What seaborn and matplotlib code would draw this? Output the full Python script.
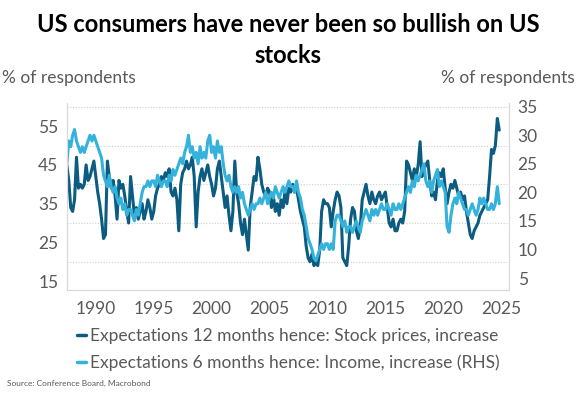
import pandas as pd
import matplotlib
matplotlib.use("Agg")
import matplotlib.pyplot as plt
import matplotlib.dates as mdates
from matplotlib.lines import Line2D
import seaborn as sns

# bi-monthly readings, Jul 1987 .. Nov 2024
stock_prices = [
    45, 41, 34,
    33, 36, 47, 39, 40, 39,
    40, 45, 41, 42, 44, 46,
    42, 38, 35, 31, 26, 27,
    46, 42, 39, 41, 37, 31,
    41, 39, 40, 37, 33, 30,
    42, 37, 32, 34, 31, 33,
    35, 31, 33, 36, 34, 31,
    33, 37, 39, 40, 42, 41,
    43, 42, 44, 38, 37, 39,
    36, 28, 40, 43, 44, 46,
    44, 45, 47, 42, 29, 38,
    42, 44, 41, 43, 45, 42,
    40, 37, 39, 44, 46, 42,
    38, 34, 37, 32, 28, 33,
    46, 38, 35, 30, 27, 31,
    27, 23, 34, 38, 42, 41,
    47, 44, 40, 38, 37, 39,
    38, 34, 37, 33, 35, 32,
    36, 34, 38, 35, 39, 38,
    40, 38, 39, 36, 33, 31,
    29, 24, 21, 20, 22, 19,
    20, 19, 23, 33, 36, 35,
    35, 34, 29, 33, 36, 38,
    37, 34, 21, 20, 19, 24,
    31, 34, 33, 28, 26, 29,
    36, 38, 40, 37, 35, 38,
    36, 35, 37, 38, 36, 37,
    38, 34, 30, 29, 31, 28,
    28, 30, 31, 30, 33, 46,
    45, 43, 41, 44, 42, 45,
    51, 42, 44, 45, 46, 41,
    37, 38, 36, 41, 43, 42,
    44, 39, 35, 38, 40, 39,
    41, 39, 37, 38, 36, 37,
    33, 30, 27, 26, 28, 29,
    30, 32, 33, 34, 35, 36,
    42, 49, 48, 50, 57, 54,
]
income = [
    25, 29, 28,
    30, 31, 29, 28, 27, 28,
    27, 28, 29, 30, 29, 30,
    29, 28, 27, 26, 23, 22,
    21, 23, 21, 20, 21, 19,
    18, 19, 17, 18, 16, 17,
    17, 16, 15, 17, 16, 18,
    20, 21, 21, 22, 21, 22,
    22, 21, 23, 22, 21, 22,
    22, 21, 23, 22, 24, 23,
    24, 25, 26, 25, 27, 28,
    30, 27, 28, 26, 27, 25,
    28, 26, 27, 26, 29, 30,
    27, 28, 26, 29, 27, 28,
    25, 23, 22, 23, 21, 20,
    21, 20, 21, 19, 20, 18,
    17, 16, 17, 18, 17, 18,
    18, 19, 18, 19, 20, 18,
    19, 20, 19, 21, 20, 19,
    20, 21, 20, 21, 22, 21,
    21, 20, 22, 20, 19, 17,
    16, 14, 12, 11, 10, 8.5,
    8, 9, 10, 11, 10, 11,
    11, 10, 11, 10, 15, 16,
    16, 15, 14, 15, 13, 14,
    14, 13, 14, 15, 14, 13,
    15, 16, 17, 16, 15, 17,
    16, 17, 16, 17, 18, 17,
    17, 18, 17, 16, 18, 17,
    17, 18, 17, 18, 19, 20,
    21, 20, 22, 21, 23, 22,
    23, 24, 25, 22, 21, 22,
    20, 22, 23, 24, 21, 22,
    21, 20, 14, 13, 16, 18,
    19, 18, 20, 19, 18, 17,
    17, 16, 17, 18, 17, 16,
    17, 19, 18, 19, 18, 17,
    17, 18, 17, 18, 21, 18,
]
year_ticks = [1990, 1995, 2000, 2005, 2010, 2015, 2020, 2025]
left_ticks = [15, 25, 35, 45, 55]
right_ticks = [5, 10, 15, 20, 25, 30, 35]

label_stock = "Expectations 12 months hence: Stock prices, increase"
label_income = "Expectations 6 months hence: Income, increase (RHS)"

df = pd.DataFrame({
    "date": pd.date_range("1987-07-01", periods=len(stock_prices), freq="2MS"),
    "stock": stock_prices,
    "income": income,
})

DARK = "#0b5c80"
LIGHT = "#35b2dc"
GREY = "#595959"

sns.set_theme(style="white")
plt.rcParams["font.family"] = ["Lato", "DejaVu Sans"]

fig = plt.figure(figsize=(5.76, 4.0), dpi=100)
ax = fig.add_axes([0.116, 0.275, 0.768, 0.4675])
ax2 = ax.twinx()

sns.lineplot(data=df, x="date", y="stock", ax=ax, color=DARK, linewidth=2.2)
sns.lineplot(data=df, x="date", y="income", ax=ax2, color=LIGHT, linewidth=2.2)

ax.set_xlim(pd.Timestamp("1987-07-01"), pd.Timestamp("2025-09-10"))
ax.set_ylim(12.7, 61)
ax2.set_ylim(2.9, 35.65)

# dotted grid every 5 on the left scale
ax.set_yticks(range(15, 61, 5), minor=True)
ax.yaxis.grid(True, which="minor", linestyle=(0, (1, 1.5)), color="#cfcfcf", linewidth=0.8)
ax.yaxis.grid(False, which="major")
ax.set_yticks(left_ticks)
ax2.set_yticks(right_ticks)
ax.set_xticks([pd.Timestamp(f"{y}-01-01") for y in year_ticks])
ax.xaxis.set_major_formatter(mdates.DateFormatter("%Y"))

for a in (ax, ax2):
    a.set_xlabel("")
    a.set_ylabel("")
    a.tick_params(which="both", length=0, labelsize=12.5, labelcolor=GREY, pad=6)
    a.spines["top"].set_visible(False)
    for s in ("left", "right", "bottom"):
        a.spines[s].set_color("#d9d9d9")
        a.spines[s].set_linewidth(0.8)
ax.tick_params(axis="x", pad=8)
ax.set_axisbelow(True)

fig.text(0.5, 0.9, "US consumers have never been so bullish on US\nstocks",
         ha="center", va="center", fontsize=17, fontweight="bold", color="black",
         linespacing=1.4)
fig.text(0.004, 0.805, "% of respondents", ha="left", va="center", fontsize=12.5, color=GREY)
fig.text(0.998, 0.805, "% of respondents", ha="right", va="center", fontsize=12.5, color=GREY)

handles = [Line2D([], [], color=DARK, linewidth=2.5),
           Line2D([], [], color=LIGHT, linewidth=2.5)]
fig.legend(handles, [label_stock, label_income], loc="center", bbox_to_anchor=(0.5, 0.126),
           frameon=False, fontsize=12.5, labelcolor=GREY, handlelength=0.55,
           handletextpad=0.2, labelspacing=0.62)

fig.text(0.012, 0.042, "Source: Conference Board, Macrobond", ha="left", va="center",
         fontsize=6, color=GREY)

fig.savefig("out.png", dpi=100)
